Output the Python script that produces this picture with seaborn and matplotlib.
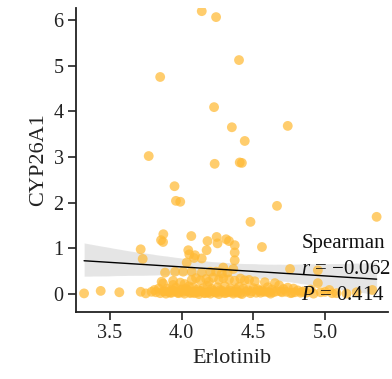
import numpy as np
import pandas as pd
import matplotlib
matplotlib.use("Agg")
import matplotlib.pyplot as plt
import seaborn as sns

x_label = "Erlotinib"
y_label = "CYP26A1"
x_ticks = [3.5, 4.0, 4.5, 5.0]
y_ticks = [0, 1, 2, 3, 4, 5, 6]
stat_lines = ["Spearman", "$r$ = \u22120.062", "$P$ = 0.414"]

erlotinib = [
    4.14, 4.24, 4.40, 3.85, 4.226, 4.35, 4.44, 4.74, 3.77, 4.405, 4.42, 4.23, 3.95, 3.96, 3.99, 4.665, 4.48, 5.36,
    3.872, 3.856, 3.87, 4.067, 4.18, 4.244, 4.25, 4.31, 4.33, 4.37, 4.56, 3.714, 4.046, 4.174,
    3.728, 4.053, 4.086, 4.14, 4.093, 4.37, 4.37, 4.035, 4.29, 4.36, 4.756, 4.95,
    3.884, 3.954, 4.01, 4.07, 4.14, 4.20, 4.24, 4.28, 4.32,
    3.86, 3.87, 3.94, 3.94, 4.07, 4.10, 4.13, 4.17, 4.19, 4.22, 4.26, 4.29, 4.33, 4.37, 4.41, 4.44, 4.47, 4.51,
    4.58, 4.65, 4.95, 4.02, 3.99, 4.05,
    3.81, 3.84, 3.90, 3.93, 3.96, 4.00, 4.03, 4.08, 4.11, 4.15, 4.18, 4.21, 4.25, 4.27, 4.30, 4.34, 4.38, 4.40,
    4.43, 4.46, 4.50, 4.53, 4.56, 4.60, 4.63, 4.68, 4.71, 4.74, 4.78, 4.81, 4.85, 4.90, 5.03, 5.33,
    3.319, 3.435, 3.565, 3.714, 3.75, 3.79, 3.85, 3.89, 3.91, 3.97, 4.02, 4.06, 4.09, 4.12, 4.16, 4.20, 4.23,
    4.26, 4.30, 4.33, 4.36, 4.39, 4.42, 4.48, 4.55, 4.62, 4.70, 4.76, 4.83, 4.92, 5.08, 5.15,
    3.88, 3.92, 3.95, 3.98, 4.01, 4.04, 4.06, 4.09, 4.11, 4.13, 4.16, 4.19, 4.22, 4.24, 4.27, 4.29,
    4.31, 4.34, 4.36, 4.38, 4.41, 4.45, 4.49, 4.52, 4.57, 4.61, 4.66, 4.73, 4.79, 4.87, 5.00, 5.22,
    3.82, 3.87, 3.93, 3.98, 4.03, 4.08, 4.13, 4.18,
    4.54, 4.59, 4.64, 4.69, 4.77, 4.84, 4.97, 5.05,
]
cyp26a1 = [
    6.19, 6.06, 5.12, 4.75, 4.09, 3.65, 3.35, 3.68, 3.02, 2.88, 2.87, 2.85, 2.36, 2.04, 2.02, 1.93, 1.58, 1.69,
    1.31, 1.18, 1.14, 1.27, 1.16, 1.25, 1.11, 1.20, 1.16, 1.07, 1.03, 0.98, 0.96, 0.96,
    0.77, 0.87, 0.79, 0.78, 0.85, 0.91, 0.74, 0.69, 0.58, 0.55, 0.55, 0.52,
    0.47, 0.49, 0.49, 0.49, 0.47, 0.49, 0.49, 0.45, 0.47,
    0.27, 0.23, 0.29, 0.20, 0.31, 0.35, 0.30, 0.33, 0.27, 0.36, 0.31, 0.35, 0.32, 0.29, 0.34, 0.30, 0.31, 0.28,
    0.26, 0.24, 0.24, 0.22, 0.25, 0.17,
    0.09, 0.12, 0.12, 0.09, 0.14, 0.10, 0.12, 0.15, 0.10, 0.13, 0.18, 0.11, 0.15, 0.09, 0.17, 0.12, 0.10, 0.16,
    0.12, 0.09, 0.13, 0.11, 0.08, 0.15, 0.10, 0.19, 0.11, 0.14, 0.12, 0.08, 0.06, 0.10, 0.09, 0.09,
    0.015, 0.07, 0.04, 0.05, 0.015, 0.05, 0.02, 0.01, 0.05, 0.03, 0.01, 0.04, 0.02, 0.00, 0.03, 0.01, 0.04,
    0.00, 0.02, 0.04, 0.01, 0.03, 0.00, 0.02, 0.03, 0.01, 0.04, 0.02, 0.03, 0.01, 0.02, 0.01,
    0.06, 0.03, 0.07, 0.02, 0.05, 0.08, 0.02, 0.06, 0.04, 0.07, 0.02, 0.05, 0.07, 0.03, 0.05, 0.06,
    0.03, 0.07, 0.04, 0.06, 0.02, 0.05, 0.06, 0.03, 0.05, 0.04, 0.06, 0.05, 0.04, 0.03, 0.05, 0.04,
    0.04, 0.06, 0.03, 0.05, 0.07, 0.04, 0.06, 0.03,
    0.08, 0.05, 0.04, 0.06, 0.03, 0.05, 0.04, 0.02,
]

df = pd.DataFrame({x_label: erlotinib, y_label: cyp26a1})

sns.set_style("ticks")
plt.rcParams["font.family"] = ["Liberation Serif", "DejaVu Serif"]
plt.rcParams["mathtext.fontset"] = "custom"
plt.rcParams["mathtext.rm"] = "Liberation Serif"
plt.rcParams["mathtext.it"] = "Liberation Serif:italic"

fig = plt.figure(figsize=(3.92, 3.79), dpi=100)
ax = fig.add_axes([0.194, 0.177, 0.796, 0.802])

sns.scatterplot(data=df, x=x_label, y=y_label, ax=ax, color="#FFBA35", alpha=0.72,
                s=50, edgecolor="none", zorder=2)
sns.regplot(data=df, x=x_label, y=y_label, ax=ax, scatter=False, color="black",
            line_kws=dict(lw=1.0, zorder=3), seed=1)
for coll in ax.collections[1:]:
    coll.set_zorder(1)
    coll.set_alpha(0.1)

ax.set_xlim(3.263, 5.44)
ax.set_ylim(-0.39, 6.26)
ax.set_xticks(x_ticks)
ax.set_yticks(y_ticks)
ax.set_xticklabels([f"{t:.1f}" for t in x_ticks])
ax.set_yticklabels([str(t) for t in y_ticks])
ax.tick_params(labelsize=14.5, length=5.5, width=1.2, colors="#222222")
for sp in ("left", "bottom"):
    ax.spines[sp].set_linewidth(1.3)
    ax.spines[sp].set_color("#222222")
sns.despine(ax=ax)
ax.set_xlabel(x_label, fontsize=16, color="#222222")
ax.set_ylabel(y_label, fontsize=16, color="#222222")

for i, (line, yv) in enumerate(zip(stat_lines, [1.0, 0.43, -0.12])):
    ax.text(4.835, yv, line, fontsize=15, color="#111111", ha="left", va="baseline",
            zorder=4, clip_on=False)

fig.savefig("out.png", dpi=100)
